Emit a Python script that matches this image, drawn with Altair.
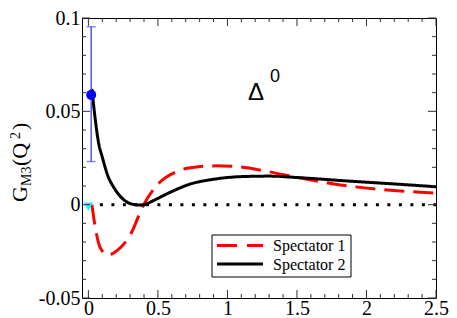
import altair as alt
import pandas as pd

# ---- data ----
s1_q = [0.025, 0.048, 0.083, 0.14, 0.21, 0.31, 0.39, 0.50, 0.64, 0.78, 0.92, 1.09, 1.28, 1.51, 1.86, 2.22, 2.5]
s1_v = [0.0, -0.0115, -0.0227, -0.027, -0.0244, -0.0149, -0.0011, 0.011, 0.0179, 0.0202, 0.0208, 0.0202, 0.0179, 0.0145, 0.0101, 0.0075, 0.0062]

s2_q = [0.025, 0.044, 0.077, 0.096, 0.14, 0.19, 0.26, 0.30, 0.335, 0.37, 0.40, 0.47, 0.59, 0.73, 0.90, 1.09, 1.30, 1.51, 1.86, 2.22, 2.5]
s2_v = [0.062, 0.049, 0.0317, 0.0265, 0.0155, 0.0084, 0.0023, 0.0006, 0.0, -0.0002, 0.0, 0.0023, 0.0067, 0.011, 0.0136, 0.015, 0.0153, 0.0145, 0.0127, 0.011, 0.0096]

series_names = ["Spectator 1", "Spectator 2"]
series_colors = ["#ff0000", "#000000"]

exp_q = [0.02]
exp_v = [0.0588]
exp_lo = [0.0231]
exp_hi = [0.0953]

tri_q = [0.0]
tri_v = [-0.001]

zero_q = [0.0, 2.5]
zero_v = [0.0, 0.0]

x_major = [0, 0.5, 1, 1.5, 2, 2.5]
x_minor = [round(0.1 * i, 2) for i in range(1, 25) if i % 5 != 0]
y_major = [-0.05, 0, 0.05, 0.1]
y_minor = [round(-0.04 + 0.01 * i, 2) for i in range(0, 14) if round(-0.04 + 0.01 * i, 2) not in (0.0, 0.05)]

# ---- layout ----
PAD_L, PAD_T, PAD_R, PAD_B = 74, 10, 13, 20
W, H = 354, 280
ox, oy = 8 + PAD_L, 8 + PAD_T   # page position of the plot origin
xs = alt.Scale(domain=[-0.046, 2.5], nice=False, zero=False)
ys = alt.Scale(domain=[-0.05, 0.1], nice=False, zero=False)
SERIF = "Liberation Serif"

AX = alt.Axis(values=x_major, labelExpr="'' + datum.value", ticks=False, domain=False,
              grid=False, title=None, labelFont=SERIF, labelFontSize=20, labelPadding=0,
              labelColor="black", labelFlush=False)
AY = alt.Axis(values=y_major, labelExpr="'' + datum.value", ticks=False, domain=False,
              grid=False, title=None, labelFont=SERIF, labelFontSize=20, labelPadding=2,
              labelColor="black", labelFlush=False)

def X(f):
    return alt.X(f, scale=xs, axis=AX)

def Y(f):
    return alt.Y(f, scale=ys, axis=AY)

curves = pd.DataFrame(
    {"q": s1_q + s2_q, "v": s1_v + s2_v,
     "series": [series_names[0]] * len(s1_q) + [series_names[1]] * len(s2_q)}
)

lines = alt.Chart(curves).mark_line(strokeWidth=3, interpolate="monotone", strokeCap="butt").encode(
    x=X("q:Q"), y=Y("v:Q"),
    color=alt.Color("series:N", scale=alt.Scale(domain=series_names, range=series_colors), legend=None),
    strokeDash=alt.StrokeDash("series:N", scale=alt.Scale(domain=series_names, range=[[20, 9], [1, 0]]), legend=None),
)

zero = alt.Chart(pd.DataFrame({"q": zero_q, "v": zero_v})).mark_line(
    color="black", strokeWidth=3, strokeDash=[3, 8.5], strokeCap="butt").encode(x=X("q:Q"), y=Y("v:Q"))

EB = "#4848ff"
exp_df = pd.DataFrame({"q": exp_q, "v": exp_v, "lo": exp_lo, "hi": exp_hi})
errbar = alt.Chart(exp_df).mark_rule(color=EB, strokeWidth=1.4).encode(x=X("q:Q"), y=Y("lo:Q"), y2="hi:Q")
cap_lo = alt.Chart(exp_df).mark_tick(color=EB, orient="horizontal", size=9, thickness=1.4).encode(x=X("q:Q"), y=Y("lo:Q"))
cap_hi = alt.Chart(exp_df).mark_tick(color=EB, orient="horizontal", size=9, thickness=1.4).encode(x=X("q:Q"), y=Y("hi:Q"))
point = alt.Chart(exp_df).mark_point(filled=True, shape="circle", size=100, color="#0000ff", opacity=1).encode(
    x=X("q:Q"), y=Y("v:Q"))
tri = alt.Chart(pd.DataFrame({"q": tri_q, "v": tri_v})).mark_point(
    filled=True, shape="triangle-down", size=90, color="#00ffff", opacity=1).encode(x=X("q:Q"), y=Y("v:Q"))

# ---- inward ticks on all four sides ----
TC = "#333333"

def xticks(vals, length):
    df = pd.DataFrame({"t": vals})
    bot = alt.Chart(df).mark_rule(color=TC, strokeWidth=1).encode(
        x=X("t:Q"), y=alt.value(H), y2=alt.value(H - length))
    top = alt.Chart(df).mark_rule(color=TC, strokeWidth=1).encode(
        x=X("t:Q"), y=alt.value(0), y2=alt.value(length))
    return [bot, top]

def yticks(vals, length):
    df = pd.DataFrame({"t": vals})
    left = alt.Chart(df).mark_rule(color=TC, strokeWidth=1).encode(
        y=Y("t:Q"), x=alt.value(0), x2=alt.value(length))
    right = alt.Chart(df).mark_rule(color=TC, strokeWidth=1).encode(
        y=Y("t:Q"), x=alt.value(W), x2=alt.value(W - length))
    return [left, right]

tick_layers = xticks(x_major, 8) + xticks(x_minor, 4) + yticks(y_major, 8) + yticks(y_minor, 4)

# ---- text annotations (positions given in page pixels) ----
one = pd.DataFrame({"k": [0]})

def label(txt, px, py, size, font=SERIF, angle=0):
    return alt.Chart(pd.DataFrame({"t": [txt]})).mark_text(
        font=font, fontSize=size, color="black", align="left", baseline="alphabetic", angle=angle
    ).encode(text="t:N", x=alt.value(px - ox), y=alt.value(py - oy))

title_parts = [
    label("G", 27, 202, 22, angle=270),
    label("M3", 31, 186, 14, angle=270),
    label("(Q", 27, 166, 22, angle=270),
    label("2", 20, 139, 14, angle=270),
    label(")", 27, 130, 22, angle=270),
]
delta = [
    label("Δ", 248, 100, 24, font="Liberation Sans"),
    label("0", 270, 82, 18, font="Liberation Sans"),
]

# ---- legend box (drawn by hand) ----
leg_box = alt.Chart(one).mark_rect(fill="white", stroke="black", strokeWidth=1).encode(
    x=alt.value(212 - ox), x2=alt.value(351 - ox), y=alt.value(235 - oy), y2=alt.value(277 - oy))
row_y = [245.5, 264]
leg_sym = [
    alt.Chart(one).mark_rule(color=series_colors[0], strokeWidth=3, strokeDash=[20, 10], strokeCap="butt").encode(
        x=alt.value(217 - ox), x2=alt.value(263 - ox), y=alt.value(row_y[0] - oy)),
    alt.Chart(one).mark_rule(color=series_colors[1], strokeWidth=3, strokeCap="butt").encode(
        x=alt.value(217 - ox), x2=alt.value(263 - ox), y=alt.value(row_y[1] - oy)),
]
leg_txt = [
    label(series_names[0], 273, row_y[0] + 5.5, 16),
    label(series_names[1], 273, row_y[1] + 5.5, 16),
]

chart = alt.layer(
    zero, lines, errbar, cap_lo, cap_hi, point, tri, *tick_layers, *title_parts, *delta,
    leg_box, *leg_sym, *leg_txt
).properties(
    width=W, height=H,
    autosize=alt.AutoSizeParams(type="none"),
    padding={"left": PAD_L, "top": PAD_T, "right": PAD_R, "bottom": PAD_B},
).configure_view(stroke="black", strokeWidth=1)

chart.save("out.html", embed_options={"renderer": "svg", "actions": False})
